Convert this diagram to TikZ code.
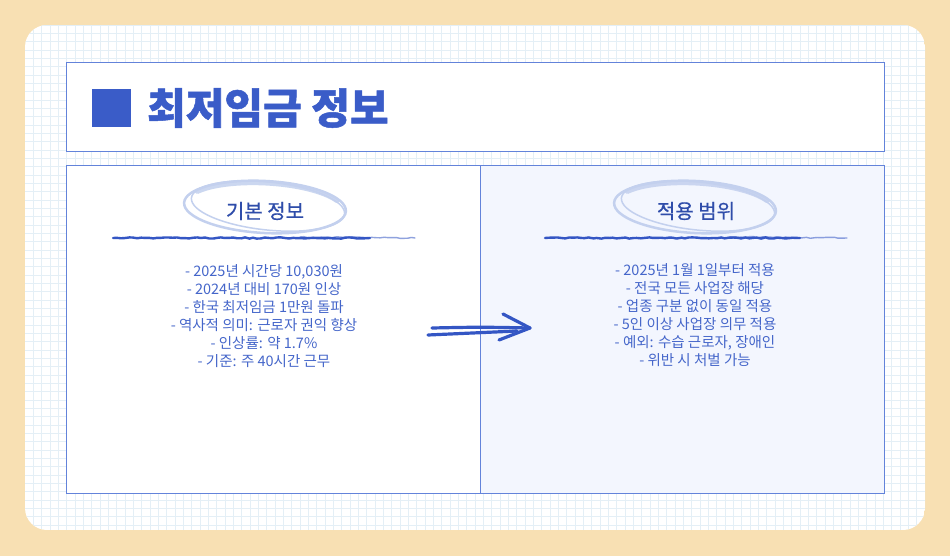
\documentclass[tikz,border=0pt]{standalone}
\usepackage{fontspec}
\setmainfont{Noto Sans CJK KR}
\usetikzlibrary{calc,decorations.pathmorphing}

\definecolor{bgsand}{HTML}{F8E0B3}
\definecolor{gridline}{HTML}{E4EFF6}
\definecolor{frameblue}{HTML}{6383DA}
\definecolor{titleblue}{HTML}{3A5CC8}
\definecolor{rightfill}{HTML}{F3F6FE}
\definecolor{ringblue}{HTML}{C3D0EE}
\definecolor{headblue}{HTML}{2F4DAA}
\definecolor{itemblue}{HTML}{4566CA}
\definecolor{inkblue}{HTML}{3456C4}

\tikzset{
  panel/.style={draw=frameblue, line width=0.9pt},
  heading/.style={font=\fontsize{20}{24}\selectfont\addfontfeature{FakeBold=0.6}, text=headblue},
  items/.style={font=\fontsize{14.5}{18}\selectfont, text=itemblue, align=center},
  ring/.style={draw=ringblue, line width=#1, line cap=round},
  inkline/.style={draw=inkblue, line cap=round, decorate,
    decoration={random steps, segment length=4pt, amplitude=0.6pt}},
  arrowink/.style={draw=inkblue, line width=3.2pt, line cap=round, line join=round}
}

\begin{document}
\begin{tikzpicture}[x=1pt,y=-1pt]
\pgfmathsetseed{7}
\useasboundingbox (0,0) rectangle (950,556);
\fill[bgsand] (0,0) rectangle (950,556);

\scope % card with grid paper
\clip[rounded corners=22pt] (25,25) rectangle (925,530);
\fill[white] (25,25) rectangle (925,530);
\draw[gridline, line width=0.5pt, step=8.333pt] (25,25) grid (925,530);
\endscope

% title bar
\draw[panel, fill=white] (66,62) rectangle (884,151);
\fill[titleblue] (92,89) rectangle (131,127);
\node[anchor=west, inner sep=0pt, text=titleblue,
  font=\fontsize{42}{44}\selectfont\bfseries\addfontfeature{FakeBold=1.2}]
  (title) at (147,108) {최저임금 정보};

% two panels
\draw[panel, fill=white] (66,165) rectangle (480,493);
\draw[panel, fill=rightfill] (480,165) rectangle (884,493);

% brushed rings, thick on top
\foreach \cx in {265,695}{
  \draw[ring=2.5pt, rotate around={-3:(\cx,207)}] (\cx,207) ellipse (81pt and 26pt);
  \draw[ring=5pt, opacity=.85, rotate around={-3:(\cx,207)}]
    (\cx,207) ++ (150:79pt and 24pt) arc[start angle=150, end angle=25, x radius=79pt, y radius=24pt];
  \draw[ring=1.5pt, rotate around={-6:(\cx+3,206)}] (\cx+3,206) ellipse (77pt and 24pt);
}

\node[heading] (basicHead) at (265,211) {기본 정보};
\node[heading] (scopeHead) at (696,211) {적용 범위};

% scribbled underlines
\draw[inkline, line width=2.4pt] (113,238) -- (370,238);
\draw[inkline, line width=1.4pt, opacity=.55] (300,237) -- (415,238);
\draw[inkline, line width=2.4pt] (545,238) -- (800,238);
\draw[inkline, line width=1.4pt, opacity=.55] (730,237) -- (847,238);

\node[items] (basicList) at (264,316) {- 2025년 시간당 10,030원\\- 2024년 대비 170원 인상\\- 한국 최저임금 1만원 돌파\\
  - 역사적 의미: 근로자 권익 향상\\- 인상률: 약 1.7\%\\- 기준: 주 40시간 근무};
\node[items] (scopeList) at (695,315) {- 2025년 1월 1일부터 적용\\- 전국 모든 사업장 해당\\- 업종 구분 없이 동일 적용\\
  - 5인 이상 사업장 의무 적용\\- 예외: 수습 근로자, 장애인\\- 위반 시 처벌 가능};

% hand drawn arrow
\coordinate (arrowTail) at (430,331);
\coordinate (arrowTip) at (530,328);
\draw[arrowink] ($(arrowTail)+(2,-3)$) .. controls ($(arrowTail)+(50,-4)$) .. (arrowTip);
\draw[arrowink] ($(arrowTail)+(-2,4)$) -- ($(arrowTip)+(-13,3)$);
\draw[arrowink] ($(arrowTip)+(-27,-14)$) -- (arrowTip) -- ($(arrowTip)+(-31,12)$);
\end{tikzpicture}
\end{document}
